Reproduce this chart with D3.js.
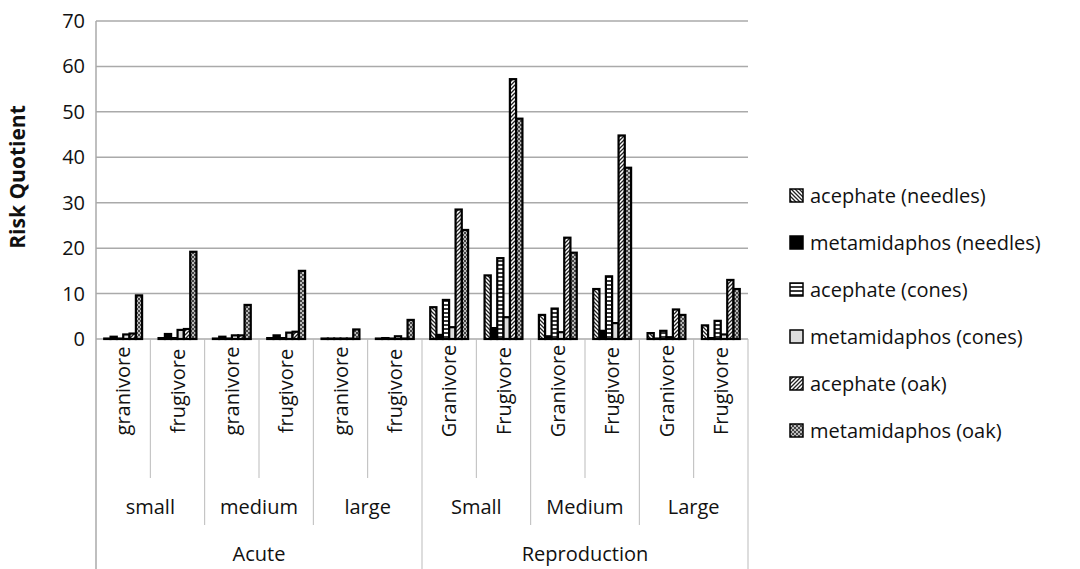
<!DOCTYPE html>
<html><head><meta charset="utf-8">
<script src="https://cdn.jsdelivr.net/npm/d3@7.9.0/dist/d3.min.js"></script>
<style>body{margin:0;background:#fff}text{font-family:"Open Sans","Liberation Sans",sans-serif;fill:#111}</style>
</head><body><svg width="1080" height="569"></svg>
<script>
// category hierarchy
const groups = ['Acute', 'Reproduction'];
const subgroups = ['small', 'medium', 'large', 'Small', 'Medium', 'Large'];
const categories = ['granivore', 'frugivore', 'granivore', 'frugivore', 'granivore', 'frugivore',
  'Granivore', 'Frugivore', 'Granivore', 'Frugivore', 'Granivore', 'Frugivore'];
const seriesNames = ['acephate (needles)', 'metamidaphos (needles)', 'acephate (cones)',
  'metamidaphos (cones)', 'acephate (oak)', 'metamidaphos (oak)'];
// values per series, one per category
const acephateNeedles = [0.1, 0.2, 0.1, 0.2, 0.1, 0.1, 7, 14, 5.3, 11, 1.3, 3];
const metaNeedles = [0.5, 1.1, 0.5, 0.8, 0.1, 0.2, 0.9, 2.4, 0.6, 1.8, 0.1, 0.2];
const acephateCones = [0.1, 0.2, 0.1, 0.2, 0.1, 0.1, 8.6, 17.8, 6.7, 13.8, 1.8, 4];
const metaCones = [1, 2, 0.8, 1.4, 0.1, 0.6, 2.6, 4.8, 1.5, 3.5, 0.4, 1];
const acephateOak = [1.2, 2.2, 0.8, 1.6, 0.1, 0.1, 28.5, 57.2, 22.3, 44.8, 6.5, 13];
const metaOak = [9.6, 19.2, 7.5, 15, 2.1, 4.2, 24, 48.5, 19, 37.7, 5.3, 11];
const series = [acephateNeedles, metaNeedles, acephateCones, metaCones, acephateOak, metaOak];
const yTicks = [0, 10, 20, 30, 40, 50, 60, 70];

const svg = d3.select('svg');
const defs = svg.append('defs');
function pat(id, draw, bg) {
  const p = defs.append('pattern').attr('id', id).attr('patternUnits', 'userSpaceOnUse')
    .attr('width', 4).attr('height', 4);
  p.append('rect').attr('width', 4).attr('height', 4).attr('fill', bg);
  draw(p);
}
pat('p0', p => p.append('path').attr('d', 'M-1,-1L5,5M-1,3L1,5M3,-1L5,1').attr('stroke', '#222').attr('stroke-width', 1.3), '#fff');
pat('p2', p => p.append('path').attr('d', 'M0,1H4').attr('stroke', '#222').attr('stroke-width', 1.8), '#fff');
pat('p4', p => p.append('path').attr('d', 'M-1,5L5,-1M-1,1L1,-1M3,5L5,3').attr('stroke', '#222').attr('stroke-width', 1.3), '#fff');
pat('p5', p => { p.append('rect').attr('width', 2).attr('height', 2).attr('fill', '#444');
  p.append('rect').attr('x', 2).attr('y', 2).attr('width', 2).attr('height', 2).attr('fill', '#444'); }, '#bbb');
const fills = ['url(#p0)', '#000', 'url(#p2)', '#ddd', 'url(#p4)', 'url(#p5)'];

const mLeft = 96, mRight = 748, mTop = 21, mBottom = 339;
const x = d3.scaleBand().domain(d3.range(categories.length)).range([mLeft, mRight]);
const xs = d3.scaleBand().domain(d3.range(series.length)).range([0, x.bandwidth()]).paddingOuter(1.3).paddingInner(0.02);
const y = d3.scaleLinear().domain([0, 70]).range([mBottom, mTop]);

svg.append('g').selectAll('line').data(yTicks).join('line')
  .attr('x1', mLeft).attr('x2', mRight).attr('y1', d => y(d)).attr('y2', d => y(d))
  .attr('stroke', '#aaa').attr('stroke-width', 1.5);
svg.append('g').selectAll('text').data(yTicks).join('text')
  .attr('x', 85).attr('y', d => y(d) + 7).attr('text-anchor', 'end').attr('font-size', 20).text(d => d);
svg.append('line').attr('x1', mLeft).attr('x2', mLeft).attr('y1', mTop).attr('y2', 569).attr('stroke', '#aaa').attr('stroke-width', 1.5);
svg.append('text').attr('transform', 'translate(25,177) rotate(-90)').attr('text-anchor', 'middle')
  .attr('font-size', 21).attr('font-weight', 'bold').text('Risk Quotient');

series.forEach((vals, s) => {
  svg.append('g').selectAll('rect').data(vals).join('rect')
    .attr('x', (d, i) => x(i) + xs(s)).attr('width', xs.bandwidth())
    .attr('y', d => y(d)).attr('height', d => mBottom - y(d))
    .attr('fill', fills[s]).attr('stroke', '#000').attr('stroke-width', 2.2);
});

// category axis
categories.forEach((c, i) => {
  const xr = x(i) + x.bandwidth();
  const yEnd = (i + 1) % 6 === 0 ? 569 : (i + 1) % 2 === 0 ? 525 : 478;
  svg.append('line').attr('x1', xr).attr('x2', xr).attr('y1', mBottom).attr('y2', yEnd).attr('stroke', '#bbb');
  svg.append('text').attr('transform', `translate(${x(i) + x.bandwidth() / 2 + 7},391) rotate(-90)`)
    .attr('text-anchor', 'middle').attr('font-size', 20).text(c);
});
subgroups.forEach((s, i) => {
  svg.append('text').attr('x', x(i * 2) + x.bandwidth()).attr('y', 514)
    .attr('text-anchor', 'middle').attr('font-size', 20).text(s);
});
groups.forEach((g, i) => {
  svg.append('text').attr('x', x(i * 6) + x.bandwidth() * 3).attr('y', 561)
    .attr('text-anchor', 'middle').attr('font-size', 20).text(g);
});

const lg = svg.append('g').selectAll('g').data(seriesNames).join('g')
  .attr('transform', (d, i) => `translate(790,${196 + i * 47})`);
lg.append('rect').attr('x', 0).attr('y', -7).attr('width', 13).attr('height', 13)
  .attr('fill', (d, i) => fills[i]).attr('stroke', '#000').attr('stroke-width', 1.5);
lg.append('text').attr('x', 20).attr('y', 7).attr('font-size', 20).text(d => d);
</script></body></html>
